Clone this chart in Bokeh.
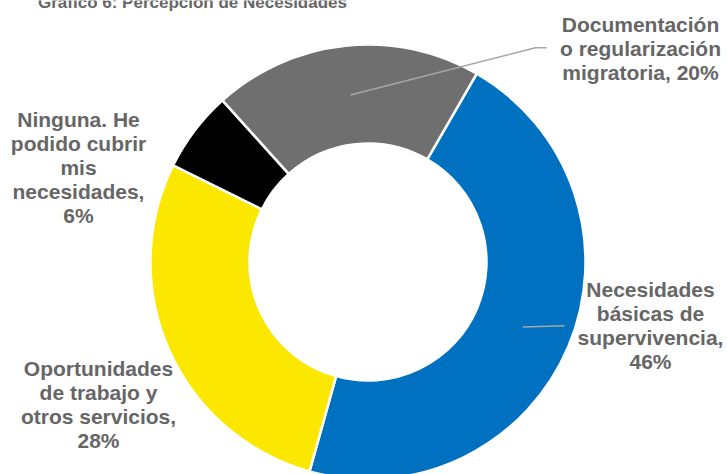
import math
from bokeh.plotting import figure
from bokeh.models import Range1d, ColumnDataSource
from bokeh.core.properties import value
from bokeh.embed import file_html
from bokeh.resources import INLINE

# ---- data ----
title_text = "Gráfico 6: Percepción de Necesidades"
categories = ["Necesidades básicas de supervivencia",
              "Oportunidades de trabajo y otros servicios",
              "Ninguna. He podido cubrir mis necesidades",
              "Documentación o regularización migratoria"]
values = [46, 28, 6, 20]
colors = ["#0070C0", "#FBE700", "#000000", "#6F6F6F"]
name_lines = [["Necesidades", "básicas de", "supervivencia,"],
              ["Oportunidades", "de trabajo y", "otros servicios,"],
              ["Ninguna. He", "podido cubrir", "mis", "necesidades,"],
              ["Documentación", "o regularización", "migratoria,"]]
pct_same_line = [False, False, False, True]

# ---- layout (page pixel coordinates) ----
W, H = 727, 474
def Y(py):
    return H - py

cx, cy = 367.5, Y(261.5)
r_in, r_out = 118.5, 217.5
start_deg = 60.0  # 30 deg clockwise from 12 o'clock

p = figure(width=W, height=H, output_backend="svg", toolbar_location=None,
           x_range=Range1d(0, W), y_range=Range1d(0, H),
           min_border=0)
p.axis.visible = False
p.grid.visible = False
p.outline_line_color = None
p.background_fill_color = "white"
p.border_fill_color = "white"

total = float(sum(values))
starts, ends, mids = [], [], []
cum = 0.0
for v in values:
    a0 = math.radians(start_deg - cum / total * 360.0)
    cum += v
    a1 = math.radians(start_deg - cum / total * 360.0)
    starts.append(a0)
    ends.append(a1)
    mids.append((a0 + a1) / 2)

src = ColumnDataSource(dict(x=[cx] * len(values), y=[cy] * len(values),
                            start=starts, end=ends, color=colors, cat=categories))
p.annular_wedge(x="x", y="y", inner_radius=r_in, outer_radius=r_out,
                start_angle="start", end_angle="end", direction="clock",
                fill_color="color", line_color="white", line_width=2.5,
                source=src)

# ---- leader lines ----
r_mid = (r_in + r_out) / 2
lead_color = "#A6A6A6"
# Documentación (index 3)
sx = cx + r_mid * math.cos(mids[3]); sy = cy + r_mid * math.sin(mids[3])
p.line([sx, 535, 546], [sy, Y(47.3), Y(47.3)], line_color=lead_color, line_width=1.5)
# Necesidades (index 0)
sx = cx + r_mid * math.cos(mids[0]); sy = cy + r_mid * math.sin(mids[0])
p.line([sx, 564], [sy, Y(325.3)], line_color=lead_color, line_width=1.5)

# ---- labels ----
shift = 8  # compensation for text baseline placement
label_pos = [(650, 297), (98, 376), (78, 127), (640, 32)]
step = 24
tx, ty, tt = [], [], []
for i, v in enumerate(values):
    lines = list(name_lines[i])
    if pct_same_line[i]:
        lines[-1] = lines[-1] + " " + f"{v}%"
    else:
        lines.append(f"{v}%")
    x0, b0 = label_pos[i]
    for j, ln in enumerate(lines):
        tx.append(x0)
        ty.append(Y(b0 + j * step - shift))
        tt.append(ln)

txt_color = "#666666"
p.text(x=tx, y=ty, text=tt, text_font=value("Liberation Sans"),
       text_font_style="bold", text_font_size="21px", text_color=txt_color,
       text_align="center", text_baseline="alphabetic")

# ---- title ----
p.text(x=[192], y=[Y(8.5 - 7)], text=[title_text], text_font=value("Liberation Sans"),
       text_font_style="bold", text_font_size="17px", text_color=txt_color,
       text_align="center", text_baseline="alphabetic")

open("out.html", "w").write(file_html(p, INLINE))
